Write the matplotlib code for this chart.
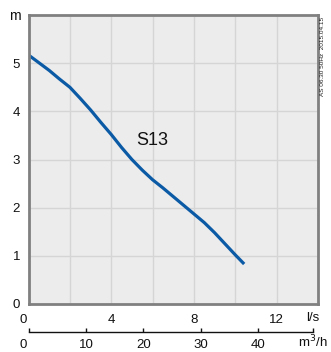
import matplotlib
matplotlib.use("Agg")
import matplotlib.pyplot as plt
import matplotlib.transforms as mtransforms

plt.rcParams['font.family'] = ['Liberation Sans', 'DejaVu Sans']

# Pump curve S13: flow (l/s) vs head (m)
flow_ls = [0, 0.5, 1, 1.5, 2, 2.5, 3, 3.5, 4, 4.5, 5, 5.5, 6, 6.5, 7, 7.5,
           8, 8.5, 9, 9.5, 10, 10.43]
head_m = [5.17, 5.01, 4.85, 4.67, 4.50, 4.27, 4.03, 3.77, 3.52, 3.25, 3.00, 2.78,
          2.58, 2.41, 2.23, 2.05, 1.87, 1.69, 1.48, 1.25, 1.02, 0.83]

x_ticks = [0, 4, 8, 12]
y_ticks = [0, 1, 2, 3, 4, 5]
m3h_ticks = [0, 10, 20, 30, 40]
curve_label = "S13"
stamp = "AS 06.30 50Hz  2015.04.15"

W, H = 331, 352
fig = plt.figure(figsize=(W / 100, H / 100), dpi=100)

def fx(px):
    return px / W

def fy(py):
    return 1 - py / H

left, right, top, bottom = 28.5, 318, 15, 304
ax = fig.add_axes([fx(left), fy(bottom), fx(right - left), fy(top) - fy(bottom)])
ax.set_facecolor('#ececec')
ax.set_xlim(0, 14)
ax.set_ylim(0, 6)
ax.set_yticks(range(0, 7))
ax.grid(True, color='#d5d5d5', linewidth=1.0)
ax.set_axisbelow(True)
for s in ax.spines.values():
    s.set_color('#808080')
    s.set_linewidth(2.0)

ax.plot(flow_ls, head_m, color='#0b5aa5', linewidth=2.3,
        solid_capstyle='butt', solid_joinstyle='round')
ax.text(5.97, 3.40, curve_label, ha='center', va='center', fontsize=13, color='#111111')

# tick labels drawn only at labelled positions; grid covers every step
ax.tick_params(axis='both', length=0, labelsize=9.5, colors='#111111')
ax.set_xticks(range(0, 15, 2))
ax.set_xticklabels([str(v) if v in x_ticks else '' for v in range(0, 15, 2)])
ax.set_yticklabels([str(v) if v in y_ticks else '' for v in range(0, 7)])
ax.tick_params(axis='x', pad=7)
ax.tick_params(axis='y', pad=6)
shift = mtransforms.ScaledTranslation(-5 / 100, 0, fig.dpi_scale_trans)
xl0 = ax.get_xticklabels()[0]
xl0.set_transform(xl0.get_transform() + shift)

fig.text(fx(15), fy(16), 'm', ha='center', va='center', fontsize=10, color='#111111')
fig.text(fx(313), fy(318), 'l/s', ha='center', va='center', fontsize=9.5, color='#111111')

# secondary flow scale in m³/h
ax2 = fig.add_axes([fx(left), fy(332), fx(313 - left), 0.001])
ax2.set_xlim(0, (313 - left) / ((right - left) / 14) * 3.6)
ax2.patch.set_visible(False)
for k in ('left', 'right', 'top'):
    ax2.spines[k].set_visible(False)
ax2.spines['bottom'].set_color('#111111')
ax2.spines['bottom'].set_linewidth(1.0)
ax2.set_yticks([])
ax2.set_xticks(m3h_ticks)
ax2.set_xticks([ax2.get_xlim()[1]], minor=True)
ax2.tick_params(axis='x', which='both', direction='in', length=3, width=1, color='#111111',
                labelsize=9.5, labelcolor='#111111', pad=5)
xl0b = ax2.get_xticklabels()[0]
xl0b.set_transform(xl0b.get_transform() + shift)
fig.text(fx(328), fy(342), 'm$^3$/h', ha='right', va='center', fontsize=9.5, color='#111111')

fig.text(fx(322), fy(17), stamp, rotation=90, ha='center', va='top', fontsize=4.6, color='#222222')

fig.savefig('out.png', dpi=100)
